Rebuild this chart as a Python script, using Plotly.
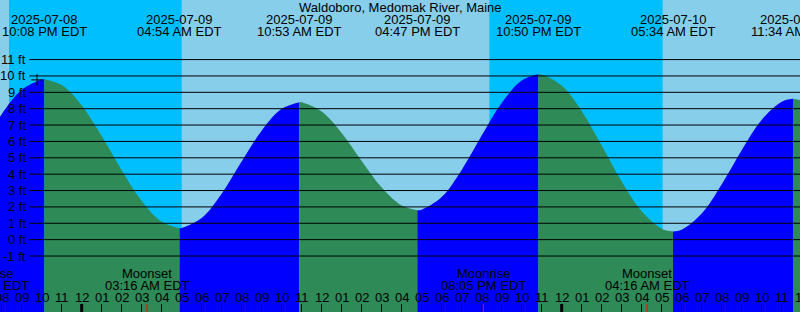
import plotly.graph_objects as go
from datetime import datetime, timedelta

FMT = "%Y-%m-%d %H:%M"

TITLE = "Waldoboro, Medomak River, Maine"
X_START = "2025-07-08 19:55"
X_END = "2025-07-10 11:55"
Y_MIN, Y_MAX = -4.42, 14.64

# High / low tide extremes
EXTREME_TIMES = ["2025-07-08 22:08", "2025-07-09 04:54", "2025-07-09 10:53",
                 "2025-07-09 16:47", "2025-07-09 22:50", "2025-07-10 05:34",
                 "2025-07-10 11:34"]
EXTREME_HEIGHTS = [9.8, 0.7, 8.4, 1.8, 10.1, 0.5, 8.6]

# Hourly tide heights (ft), starting 2025-07-08 19:00
HOURLY_START = "2025-07-08 19:00"
HOURLY_HEIGHTS = [5.68, 7.66, 9.15, 9.79, 9.44, 8.20, 6.33, 4.24, 2.36, 1.09,
                  0.71, 1.32, 2.81, 4.77, 6.66, 7.99, 8.39, 7.83, 6.52, 4.81,
                  3.18, 2.08, 1.83, 2.60, 4.26, 6.36, 8.35, 9.72, 10.09, 9.41,
                  7.85, 5.75, 3.55, 1.73, 0.67, 0.60, 1.59, 3.37, 5.46, 7.31,
                  8.42, 8.51]

NIGHT_STARTS = ["2025-07-08 20:22", "2025-07-09 20:23"]
NIGHT_ENDS = ["2025-07-09 05:00", "2025-07-10 05:03"]

MOON_EVENTS = ["Moonrise", "Moonset", "Moonrise", "Moonset"]
MOON_TIMES = ["2025-07-08 19:15", "2025-07-09 03:16", "2025-07-09 20:05",
              "2025-07-10 04:16"]

NOW_TIME = "2025-07-08 21:46"
NOW_HEIGHT = 9.76

Y_TICKS = list(range(-1, 12))
HOUR_TICK_START = "2025-07-08 20:00"
HOUR_TICK_COUNT = 41
MIDNIGHTS = ["2025-07-09 00:00", "2025-07-10 00:00"]

DAY_COLOR = "#87CEEB"
NIGHT_COLOR = "#00BFFF"
RISE_COLOR = "#0000FF"
FALL_COLOR = "#2E8B57"
FONT = "Liberation Sans, Arial, sans-serif"
FS = 13
W, H = 800, 312

p = lambda s: datetime.strptime(s, FMT)
xs, xe = p(X_START), p(X_END)
span = (xe - xs).total_seconds()
def xfrac(t):
    return (t - xs).total_seconds() / span

ext_t = [p(s) for s in EXTREME_TIMES]
h0 = p(HOURLY_START)
hourly_t = [h0 + timedelta(hours=i) for i in range(len(HOURLY_HEIGHTS))]
pts = sorted(list(zip(hourly_t, HOURLY_HEIGHTS)) + list(zip(ext_t, EXTREME_HEIGHTS)))

fig = go.Figure()

bounds = [pts[0][0]] + ext_t + [pts[-1][0]]
for a, b in zip(bounds[:-1], bounds[1:]):
    seg = [q for q in pts if a <= q[0] <= b]
    sx = [q[0] for q in seg]
    sy = [q[1] for q in seg]
    color = RISE_COLOR if sy[-1] > sy[0] else FALL_COLOR
    fig.add_trace(go.Scatter(x=[sx[0], sx[-1]], y=[Y_MIN, Y_MIN], mode="lines",
                             line=dict(width=0), hoverinfo="skip", showlegend=False))
    fig.add_trace(go.Scatter(x=sx, y=sy, mode="lines",
                             line=dict(width=0, shape="spline", color=color),
                             fill="tonexty", fillcolor=color,
                             hoverinfo="skip", showlegend=False))

# current-time marker
fig.add_trace(go.Scatter(x=[p(NOW_TIME)], y=[NOW_HEIGHT], mode="markers",
                         marker=dict(symbol="cross-thin", size=8,
                                     line=dict(color="black", width=1)),
                         hoverinfo="skip", showlegend=False))

shapes = []
for a, b in zip(NIGHT_STARTS, NIGHT_ENDS):
    shapes.append(dict(type="rect", xref="x", yref="paper", x0=p(a), x1=p(b),
                       y0=0, y1=1, fillcolor=NIGHT_COLOR, line=dict(width=0),
                       layer="below"))
for v in Y_TICKS:
    shapes.append(dict(type="line", xref="paper", yref="y", x0=29.3 / W, x1=1,
                       y0=v, y1=v, line=dict(color="black", width=1),
                       layer="above"))
for m in MIDNIGHTS:
    shapes.append(dict(type="line", xref="x", yref="paper", x0=p(m), x1=p(m),
                       y0=0, y1=8 / H, line=dict(color="black", width=3),
                       layer="above"))
for t in MOON_TIMES:
    shapes.append(dict(type="line", xref="x", yref="paper", x0=p(t), x1=p(t),
                       y0=0, y1=8 / H, line=dict(color="red", width=1),
                       layer="above"))

ann = []
ann.append(dict(text=TITLE, xref="paper", yref="paper", x=0.5, y=1 - 7.5 / H,
                xanchor="center", yanchor="middle", showarrow=False))
for t in ext_t:
    ann.append(dict(text=t.strftime("%Y-%m-%d"), xref="x", yref="paper", x=t,
                    y=1 - 19.5 / H, xanchor="center", yanchor="middle",
                    showarrow=False))
    ann.append(dict(text=t.strftime("%I:%M %p EDT"), xref="x", yref="paper", x=t,
                    y=1 - 31.5 / H, xanchor="center", yanchor="middle",
                    showarrow=False))
for v in Y_TICKS:
    ann.append(dict(text=f"{v} ft", xref="paper", yref="y", x=27.5 / W, y=v,
                    xanchor="right", yanchor="middle", showarrow=False))
for name, s in zip(MOON_EVENTS, MOON_TIMES):
    t = p(s)
    ann.append(dict(text=name, xref="paper", yref="paper", x=xfrac(t),
                    y=1 - 273 / H, xanchor="center", yanchor="middle",
                    showarrow=False))
    ann.append(dict(text=t.strftime("%I:%M %p EDT"), xref="paper", yref="paper",
                    x=xfrac(t), y=1 - 285 / H, xanchor="center",
                    yanchor="middle", showarrow=False))

tick0 = p(HOUR_TICK_START)
tickvals = [tick0 + timedelta(hours=i) for i in range(HOUR_TICK_COUNT)]
for t in tickvals:
    ann.append(dict(text=t.strftime("%I"), xref="paper", yref="paper",
                    x=xfrac(t), y=1 - 297 / H, xanchor="center",
                    yanchor="middle", showarrow=False))

fig.update_layout(
    width=W, height=H, margin=dict(l=0, r=0, t=0, b=0),
    paper_bgcolor=DAY_COLOR, plot_bgcolor=DAY_COLOR,
    font=dict(family=FONT, size=FS, color="black"),
    shapes=shapes, annotations=ann, showlegend=False,
    xaxis=dict(range=[xs, xe], showgrid=False, zeroline=False, showline=False,
               tickmode="array", tickvals=tickvals, ticktext=[""] * len(tickvals),
               ticks="inside", ticklen=8, tickwidth=1, tickcolor="black",
               showticklabels=False, layer="above traces"),
    yaxis=dict(range=[Y_MIN, Y_MAX], showgrid=False, zeroline=False,
               showticklabels=False, ticks=""),
)

fig.write_html("out.html")
